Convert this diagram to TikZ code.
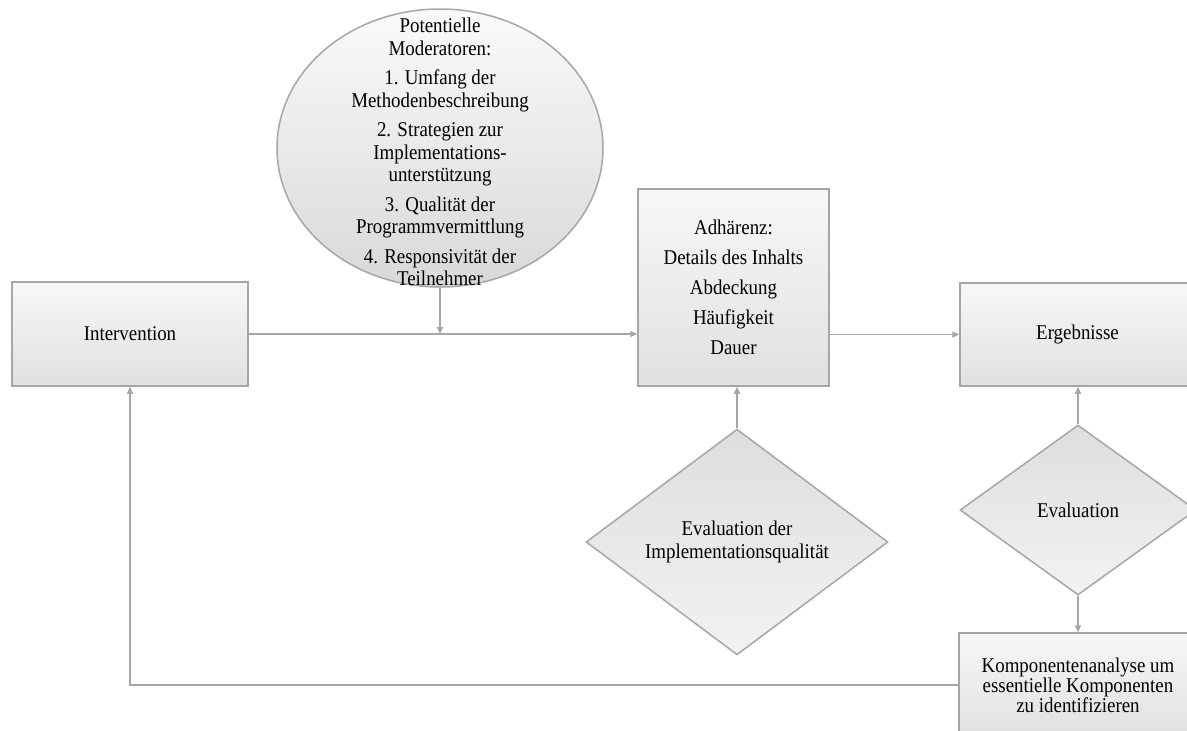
\documentclass[tikz,border=0pt]{standalone}
\usepackage{fontspec}
\setmainfont{Liberation Serif}[FakeStretch=0.9]
\usetikzlibrary{shapes.geometric,arrows.meta}
\definecolor{edge}{HTML}{A6A6A6}
\tikzset{
  boxnode/.style={rectangle, draw=edge, line width=1.5pt, top color=gray!6, bottom color=gray!24, align=center, inner sep=0pt},
  diamnode/.style={diamond, draw=edge, line width=1.5pt, top color=gray!26, bottom color=gray!10, align=center, inner sep=0pt},
  ellnode/.style={ellipse, draw=edge, line width=1.5pt, top color=gray!4, bottom color=gray!30, inner sep=0pt},
  conn/.style={draw=edge, line width=1.5pt},
  arr/.style={conn, -{Triangle[length=7pt,width=6pt]}},
  txt/.style={align=center, inner sep=0pt}
}
\begin{document}
\begin{tikzpicture}[x=1pt, y=-1pt, font=\fontsize{21}{23}\selectfont]
\useasboundingbox (0,0) rectangle (1187,731);
\clip (0,0) rectangle (1187,731);

% nodes
\node[boxnode, minimum width=236pt, minimum height=104pt] (interv) at (130,334) {Intervention};
\node[ellnode, minimum width=326pt, minimum height=278pt] (moder) at (440,148) {};
\node[txt, font=\fontsize{21}{22.5}\selectfont] (modtext) at (440,152)
  {Potentielle\\Moderatoren:\\[7pt]
   1. Umfang der\\Methodenbeschreibung\\[7pt]
   2. Strategien zur\\Implementations-\\unterstützung\\[7pt]
   3. Qualität der\\Programmvermittlung\\[7pt]
   4. Responsivität der\\Teilnehmer};
\node[boxnode, minimum width=191pt, minimum height=197pt, font=\fontsize{21}{30}\selectfont] (adh) at (733.5,287.5)
  {Adhärenz:\\Details des Inhalts\\Abdeckung\\Häufigkeit\\Dauer};
\node[boxnode, minimum width=235pt, minimum height=103pt] (erg) at (1077.5,334.5) {Ergebnisse};
\node[diamnode, minimum width=302pt, minimum height=216pt] (evimpl) at (737,542)
  {Evaluation der\\Implementationsqualität};
\node[diamnode, minimum width=236pt, minimum height=170pt] (eval) at (1078,510) {Evaluation};
\node[boxnode, minimum width=238pt, minimum height=104pt, font=\fontsize{21}{20}\selectfont] (komp) at (1078,685)
  {Komponentenanalyse um\\essentielle Komponenten\\zu identifizieren};

% connectors
\draw[arr] (interv.east) -- (interv.east -| adh.west);
\draw[arr] (moder.south) -- (moder.south |- interv.east);
\draw[arr] (adh.east |- erg.west) -- (erg.west);
\draw[arr] (evimpl.north) -- (evimpl.north |- adh.south);
\draw[arr] (eval.north) -- (eval.north |- erg.south);
\draw[arr] (eval.south) -- (eval.south |- komp.north);
\draw[arr] (komp.west) -- (interv.south |- komp.west) -- (interv.south);
\end{tikzpicture}
\end{document}
